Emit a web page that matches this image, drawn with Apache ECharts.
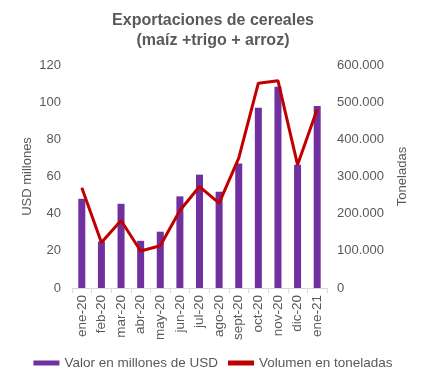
<!DOCTYPE html>
<html><head><meta charset="utf-8">
<script src="https://cdn.jsdelivr.net/npm/echarts@6/dist/echarts.min.js"></script>
<style>html,body{margin:0;padding:0;background:#fff}#c{width:426px;height:384px}</style>
</head><body><div id="c"></div>
<script>
const categories = ['ene-20','feb-20','mar-20','abr-20','may-20','jun-20','jul-20','ago-20','sept-20','oct-20','nov-20','dic-20','ene-21'];
const valorUSD = [48, 25, 45.3, 25.4, 30.3, 49.3, 61, 51.8, 67, 97, 108.3, 66.3, 98];
const volumenTon = [270000, 122500, 181600, 99400, 113600, 208500, 273000, 228400, 349300, 551000, 557800, 331300, 481000];
const leftTicks = [0, 20, 40, 60, 80, 100, 120];
const rightTicks = [0, 100000, 200000, 300000, 400000, 500000, 600000];

const FONT = 'Liberation Sans, Arial, sans-serif';
const GREY = '#595959';
const chart = echarts.init(document.getElementById('c'));
chart.setOption({
  animation: false,
  textStyle: { fontFamily: FONT },
  title: {
    text: 'Exportaciones de cereales\n(maíz +trigo + arroz)',
    left: 'center', top: 6,
    textStyle: { fontFamily: FONT, fontSize: 16, fontWeight: 'bold', color: GREY, lineHeight: 20 }
  },
  legend: {
    bottom: 9, left: 'center', itemGap: 10,
    textStyle: { fontFamily: FONT, fontSize: 13.5, color: GREY },
    data: [
      { name: 'Valor en millones de USD', icon: 'rect', itemStyle: { color: '#7030A0' } },
      { name: 'Volumen en toneladas', icon: 'rect' }
    ],
    itemWidth: 26, itemHeight: 5
  },
  grid: { left: 72, right: 99, top: 65, bottom: 96 },
  xAxis: {
    type: 'category', data: categories,
    axisLine: { lineStyle: { color: '#d9d9d9' } },
    axisTick: { show: true, lineStyle: { color: '#d9d9d9' }, length: 5 },
    axisLabel: { rotate: 90, color: GREY, fontSize: 13.5, fontFamily: FONT, margin: 7, interval: 0 }
  },
  yAxis: [
    {
      type: 'value', min: leftTicks[0], max: leftTicks[leftTicks.length-1], interval: 20,
      name: 'USD millones', nameLocation: 'middle', nameGap: 38, nameRotate: 90, nameMoveOverlap: false,
      nameTextStyle: { color: GREY, fontSize: 13, fontFamily: FONT },
      axisLine: { show: false }, axisTick: { show: false }, splitLine: { show: false },
      axisLabel: { color: GREY, fontSize: 13, fontFamily: FONT, margin: 11 }
    },
    {
      type: 'value', min: rightTicks[0], max: rightTicks[rightTicks.length-1], interval: 100000,
      name: 'Toneladas', nameLocation: 'middle', nameGap: 69, nameRotate: 90, nameMoveOverlap: false,
      nameTextStyle: { color: GREY, fontSize: 13, fontFamily: FONT },
      axisLine: { show: false }, axisTick: { show: false }, splitLine: { show: false },
      axisLabel: { color: GREY, fontSize: 13, fontFamily: FONT, margin: 10,
        formatter: v => v === 0 ? '0' : v.toLocaleString('de-DE') }
    }
  ],
  series: [
    { name: 'Valor en millones de USD', type: 'bar', data: valorUSD, barWidth: 7,
      itemStyle: { color: '#7030A0' } },
    { name: 'Volumen en toneladas', type: 'line', yAxisIndex: 1, data: volumenTon,
      symbol: 'none', lineStyle: { color: '#C00000', width: 3 }, itemStyle: { color: '#C00000' } }
  ]
});
</script></body></html>
